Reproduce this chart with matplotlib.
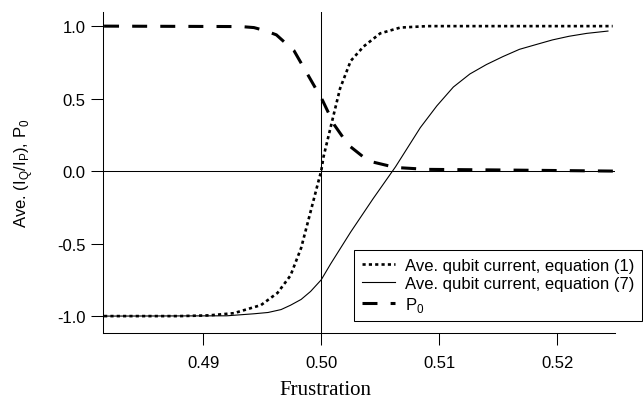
import numpy as np
import matplotlib
matplotlib.use('Agg')
import matplotlib.pyplot as plt

# values
f_eq1 = [0.4816, 0.4880, 0.4905, 0.4926, 0.4949, 0.4963, 0.4974, 0.4983, 0.4991,
         0.4998, 0.5000, 0.5002, 0.5010, 0.5016, 0.5025, 0.5036, 0.5050, 0.5067,
         0.5090, 0.5247]
i_eq1 = [-1.0, -1.0, -0.995, -0.98, -0.924, -0.84, -0.72, -0.53, -0.28,
         -0.06, 0.0, 0.10, 0.37, 0.57, 0.76, 0.86, 0.95, 0.99,
         1.0, 1.0]

f_eq7 = [0.4816, 0.4920, 0.4943, 0.4955, 0.4966, 0.4974, 0.4983, 0.4991, 0.5000,
         0.5008, 0.5025, 0.5044, 0.5063, 0.5084, 0.5098, 0.5112, 0.5126, 0.5140,
         0.5154, 0.5168, 0.5183, 0.5196, 0.5210, 0.5225, 0.5243]
i_eq7 = [-1.0, -0.998, -0.984, -0.975, -0.955, -0.925, -0.885, -0.83, -0.75,
         -0.64, -0.42, -0.19, 0.03, 0.30, 0.45, 0.58, 0.67, 0.735,
         0.79, 0.84, 0.875, 0.905, 0.93, 0.95, 0.966]

f_p0 = [0.4816, 0.4932, 0.4943, 0.4952, 0.4962, 0.4977, 0.4989, 0.5001, 0.5011,
        0.5023, 0.5040, 0.5063, 0.5090, 0.5150, 0.5250]
p0 = [1.0, 0.997, 0.99, 0.97, 0.94, 0.83, 0.66, 0.49, 0.32,
      0.18, 0.07, 0.025, 0.012, 0.008, 0.0]

x_ticks = [0.49, 0.50, 0.51, 0.52]
x_labels = ['0.49', '0.50', '0.51', '0.52']
y_ticks = [-1.0, -0.5, 0.0, 0.5, 1.0]
y_labels = ['-1.0', '-0.5', '0.0', '0.5', '1.0']

plt.rcParams['font.family'] = ['Liberation Sans', 'DejaVu Sans']

fig = plt.figure(figsize=(6.43, 4.02), dpi=100)
ax = fig.add_axes([0.160, 0.169, 0.7965, 0.7985])

ax.axhline(0.0, color='black', lw=0.75)
ax.axvline(0.5, color='black', lw=0.75)

ax.plot(f_eq1, i_eq1, color='black', lw=1.9, linestyle=(0, (1.2, 1.2)),
        dash_capstyle='butt', label='Ave. qubit current, equation (1)')
ax.plot(f_eq7, i_eq7, color='black', lw=0.8,
        label='Ave. qubit current, equation (7)')
ax.plot(f_p0, p0, color='black', lw=2.2, linestyle=(0, (4.9, 4.3)),
        dash_capstyle='butt', label='P$_\\mathregular{0}$')

ax.set_xlim(0.4815, 0.5249)
ax.set_ylim(-1.117, 1.097)
ax.set_xticks(x_ticks)
ax.set_xticklabels(x_labels)
ax.set_yticks(y_ticks)
ax.set_yticklabels(y_labels)

for s in ['top', 'right']:
    ax.spines[s].set_visible(False)
for s in ['left', 'bottom']:
    ax.spines[s].set_linewidth(0.75)

ax.tick_params(axis='both', direction='out', length=8.5, width=0.75,
               labelsize=12, colors='black')
ax.tick_params(axis='x', pad=7)
ax.tick_params(axis='y', pad=4)

ax.set_xlabel('Frustration', family='Liberation Serif', fontsize=15)
ax.xaxis.set_label_coords(0.435, -0.145)
ax.set_ylabel('Ave. (I$_\\mathregular{Q}$/I$_\\mathregular{P}$), P$_\\mathregular{0}$',
              fontsize=12)
ax.yaxis.set_label_coords(-0.132, 0.5)

leg = ax.legend(loc='lower right', bbox_to_anchor=(0.9984, 0.199),
                bbox_transform=fig.transFigure, fontsize=12, frameon=True,
                fancybox=False, borderpad=0.45, labelspacing=0.2,
                handlelength=2.0, handletextpad=0.6, borderaxespad=0)
leg.get_frame().set_edgecolor('black')
leg.get_frame().set_linewidth(0.75)
leg.get_frame().set_alpha(1)

plt.savefig('out.png', dpi=100)
